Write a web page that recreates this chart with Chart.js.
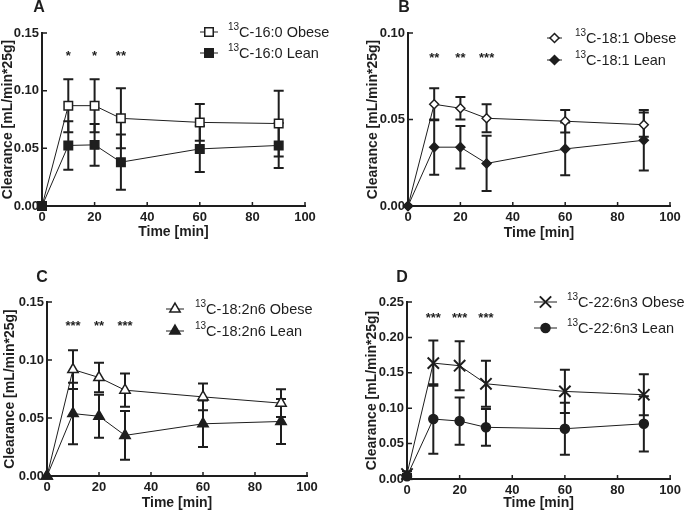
<!DOCTYPE html>
<html><head><meta charset="utf-8">
<script src="https://cdn.jsdelivr.net/npm/chart.js@4.4.1/dist/chart.umd.min.js"></script>
<style>
html,body{margin:0;padding:0;background:#fff;}
#wrap{position:relative;width:685px;height:515px;background:#fff;overflow:hidden;}
canvas{position:absolute;left:0;top:0;}
</style></head><body><div id="wrap">
<canvas id="cA" width="685" height="515"></canvas>
<canvas id="cB" width="685" height="515"></canvas>
<canvas id="cC" width="685" height="515"></canvas>
<canvas id="cD" width="685" height="515"></canvas>
</div>
<script>
// ---- data ----
const times = [0, 10, 20, 30, 60, 90];
const xTicks = [0, 20, 40, 60, 80, 100];

const aObese    = [0, 0.087, 0.087, 0.076, 0.0725, 0.0715];
const aObeseErr = [0, 0.023, 0.023, 0.026, 0.016, 0.0285];
const aLean     = [0, 0.0525, 0.053, 0.038, 0.0495, 0.0525];
const aLeanErr  = [0, 0.021, 0.018, 0.024, 0.020, 0.0195];
const aStars    = ['*', '*', '**'];
const aStarY    = 0.1327;

const bObese    = [0, 0.0588, 0.0565, 0.0507, 0.049, 0.047];
const bObeseErr = [0, 0.0092, 0.0065, 0.0081, 0.0065, 0.007];
const bLean     = [0, 0.034, 0.034, 0.0246, 0.033, 0.038];
const bLeanErr  = [0, 0.016, 0.0123, 0.016, 0.0152, 0.0175];
const bStars    = ['**', '**', '***'];
const bStarY    = 0.0873;

const cObese    = [0, 0.0918, 0.0849, 0.074, 0.0682, 0.0628];
const cObeseErr = [0, 0.0167, 0.0127, 0.0144, 0.0115, 0.012];
const cLean     = [0, 0.0538, 0.0515, 0.035, 0.045, 0.047];
const cLeanErr  = [0, 0.0265, 0.0185, 0.021, 0.020, 0.0194];
const cStars    = ['***', '**', '***'];
const cStarY    = 0.1316;

const dObese    = [0.007, 0.1637, 0.160, 0.1345, 0.1237, 0.119];
const dObeseErr = [0.004, 0.032, 0.0347, 0.0325, 0.0306, 0.029];
const dLean     = [0.004, 0.0847, 0.0818, 0.073, 0.071, 0.078];
const dLeanErr  = [0.003, 0.049, 0.0334, 0.026, 0.0367, 0.039];
const dStars    = ['***', '***', '***'];
const dStarY    = 0.232;
const starTimes = [10, 20, 30];

// ---- styling / layout ----
const INK = '#1e1e1e';
const FONT = "'Liberation Sans', Arial, Helvetica, sans-serif";

const panels = [
  { id:'cA', letter:'A', letterPos:[39,8], ymax:0.15, ystep:0.05,
    area:{left:42,right:305,top:33,bottom:206}, yBoxLeft:0, xH:35,
    obese:aObese, obeseErr:aObeseErr, lean:aLean, leanErr:aLeanErr, stars:aStars, starY:aStarY,
    names:['C-16:0 Obese','C-16:0 Lean'],
    obeseStyle:{pointStyle:'rect', radius:6, fill:'#fff'},
    leanStyle:{pointStyle:'rect', radius:6, fill:INK},
    legend:{x0:200,x1:218,tx:228,rows:[32,53]} },
  { id:'cB', letter:'B', letterPos:[404,8], ymax:0.10, ystep:0.05,
    area:{left:408,right:670,top:33,bottom:206}, yBoxLeft:365, xH:36,
    obese:bObese, obeseErr:bObeseErr, lean:bLean, leanErr:bLeanErr, stars:bStars, starY:bStarY,
    names:['C-18:1 Obese','C-18:1 Lean'],
    obeseStyle:{pointStyle:'rectRot', radius:4.5, fill:'#fff'},
    leanStyle:{pointStyle:'rectRot', radius:4.5, fill:INK},
    legend:{x0:547,x1:562,tx:575,rows:[38,60]} },
  { id:'cC', letter:'C', letterPos:[42,278], ymax:0.15, ystep:0.05,
    area:{left:47,right:307,top:302,bottom:476}, yBoxLeft:2, xH:36,
    obese:cObese, obeseErr:cObeseErr, lean:cLean, leanErr:cLeanErr, stars:cStars, starY:cStarY,
    names:['C-18:2n6 Obese','C-18:2n6 Lean'],
    obeseStyle:{pointStyle:'triangle', radius:6, fill:'#fff'},
    leanStyle:{pointStyle:'triangle', radius:6, fill:INK},
    legend:{x0:166,x1:184,tx:195,rows:[309,331]} },
  { id:'cD', letter:'D', letterPos:[402,278], ymax:0.25, ystep:0.05,
    area:{left:407,right:673,top:302,bottom:479}, yBoxLeft:364, xH:33,
    obese:dObese, obeseErr:dObeseErr, lean:dLean, leanErr:dLeanErr, stars:dStars, starY:dStarY,
    names:['C-22:6n3 Obese','C-22:6n3 Lean'],
    obeseStyle:{pointStyle:'crossRot', radius:8, fill:INK},
    leanStyle:{pointStyle:'circle', radius:4.5, fill:INK},
    legend:{x0:534,x1:557,tx:567,rows:[302,328]} }
];

function drawMarker(ctx, st, x, y) {
  const opts = {pointStyle: st.pointStyle, radius: st.radius, rotation: 0, borderWidth: 1.5};
  ctx.save();
  ctx.fillStyle = st.fill; ctx.strokeStyle = INK; ctx.lineWidth = st.pointStyle === 'crossRot' ? 2 : 1.5;
  if (Chart.helpers && Chart.helpers.drawPoint) {
    Chart.helpers.drawPoint(ctx, opts, x, y);
  }
  ctx.restore();
}

function makePlugin(p) {
  return {
    id: 'custom' + p.letter,
    beforeDatasetsDraw(chart) {
      const ctx = chart.ctx, xs = chart.scales.x, ys = chart.scales.y;
      ctx.save();
      ctx.strokeStyle = INK; ctx.lineWidth = 2;
      [[p.obese, p.obeseErr], [p.lean, p.leanErr]].forEach(([vals, errs]) => {
        vals.forEach((v, i) => {
          const e = errs[i]; if (!e) return;
          const px = xs.getPixelForValue(times[i]);
          const t = ys.getPixelForValue(v + e), b = ys.getPixelForValue(v - e);
          ctx.beginPath();
          ctx.moveTo(px, t); ctx.lineTo(px, b);
          ctx.moveTo(px - 5, t); ctx.lineTo(px + 5, t);
          ctx.moveTo(px - 5, b); ctx.lineTo(px + 5, b);
          ctx.stroke();
        });
      });
      ctx.restore();
    },
    afterDraw(chart) {
      const ctx = chart.ctx, xs = chart.scales.x, ys = chart.scales.y, a = chart.chartArea;
      ctx.save();
      // inward ticks
      ctx.strokeStyle = INK; ctx.lineWidth = 1.5;
      ctx.beginPath();
      xTicks.forEach(t => { const px = xs.getPixelForValue(t); ctx.moveTo(px, a.bottom); ctx.lineTo(px, a.bottom - 4); });
      for (let v = 0; v <= p.ymax + 1e-9; v += p.ystep) {
        const py = ys.getPixelForValue(v); ctx.moveTo(a.left, py); ctx.lineTo(a.left + 5, py);
      }
      ctx.stroke();
      // stars
      ctx.fillStyle = INK; ctx.font = 'bold 13px ' + FONT; ctx.textAlign = 'center'; ctx.textBaseline = 'alphabetic';
      p.stars.forEach((s, i) => {
        ctx.fillText(s, xs.getPixelForValue(starTimes[i]), ys.getPixelForValue(p.starY) + 7);
      });
      // legend
      const L = p.legend;
      [p.obeseStyle, p.leanStyle].forEach((st, i) => {
        const y = L.rows[i];
        ctx.strokeStyle = INK; ctx.lineWidth = 1;
        ctx.beginPath(); ctx.moveTo(L.x0, y); ctx.lineTo(L.x1, y); ctx.stroke();
        drawMarker(ctx, st, (L.x0 + L.x1) / 2, y);
        ctx.fillStyle = INK; ctx.textAlign = 'left'; ctx.textBaseline = 'middle';
        ctx.font = '10px ' + FONT;
        ctx.fillText('13', L.tx, y - 5);
        const w = ctx.measureText('13').width;
        ctx.font = '14.5px ' + FONT;
        ctx.fillText(p.names[i], L.tx + w, y + 1);
      });
      // panel letter
      ctx.font = 'bold 16px ' + FONT; ctx.textAlign = 'center'; ctx.textBaseline = 'middle';
      ctx.fillText(p.letter, p.letterPos[0], p.letterPos[1]);
      ctx.restore();
    }
  };
}

function ds(vals, st, label, order) {
  return {
    label, order,
    data: times.map((t, i) => ({x: t, y: vals[i]})),
    showLine: true,
    borderColor: INK, borderWidth: 1,
    pointStyle: st.pointStyle, pointRadius: st.radius, pointHoverRadius: st.radius,
    pointBackgroundColor: st.fill, pointBorderColor: INK,
    pointBorderWidth: st.pointStyle === 'crossRot' ? 2 : 1.5,
    clip: false, tension: 0
  };
}

panels.forEach(p => {
  const W = 685, H = 515;
  const yW = p.area.left - p.yBoxLeft;
  new Chart(document.getElementById(p.id), {
    type: 'scatter',
    data: { datasets: [
      ds(p.obese, p.obeseStyle, '13' + p.names[0], 1),
      ds(p.lean, p.leanStyle, '13' + p.names[1], 0)
    ]},
    options: {
      responsive: false, animation: false, devicePixelRatio: 1,
      layout: { padding: { left: p.yBoxLeft, right: W - p.area.right, top: p.area.top, bottom: H - p.area.bottom - p.xH } },
      plugins: { legend: {display: false}, tooltip: {enabled: false} },
      scales: {
        x: {
          type: 'linear', min: 0, max: 100,
          afterFit: s => { s.height = p.xH; },
          grid: {display: false, drawTicks: false},
          border: {display: true, color: INK, width: 2},
          ticks: {stepSize: 20, padding: 4, color: INK, font: {family: FONT, size: 13, weight: 'bold'}, maxRotation: 0},
          title: {display: true, text: 'Time [min]', color: INK, padding: 0, font: {family: FONT, size: 14, weight: 'bold'}}
        },
        y: {
          type: 'linear', min: 0, max: p.ymax,
          afterFit: s => { s.width = yW; },
          grid: {display: false, drawTicks: false},
          border: {display: true, color: INK, width: 2},
          ticks: {stepSize: p.ystep, padding: 3, color: INK, font: {family: FONT, size: 13, weight: 'bold'},
                  callback: v => Number(v).toFixed(2)},
          title: {display: true, text: 'Clearance [mL/min*25g]', color: INK, padding: 0, font: {family: FONT, size: 14, weight: 'bold'}}
        }
      }
    },
    plugins: [makePlugin(p)]
  });
});
</script>
</body></html>
